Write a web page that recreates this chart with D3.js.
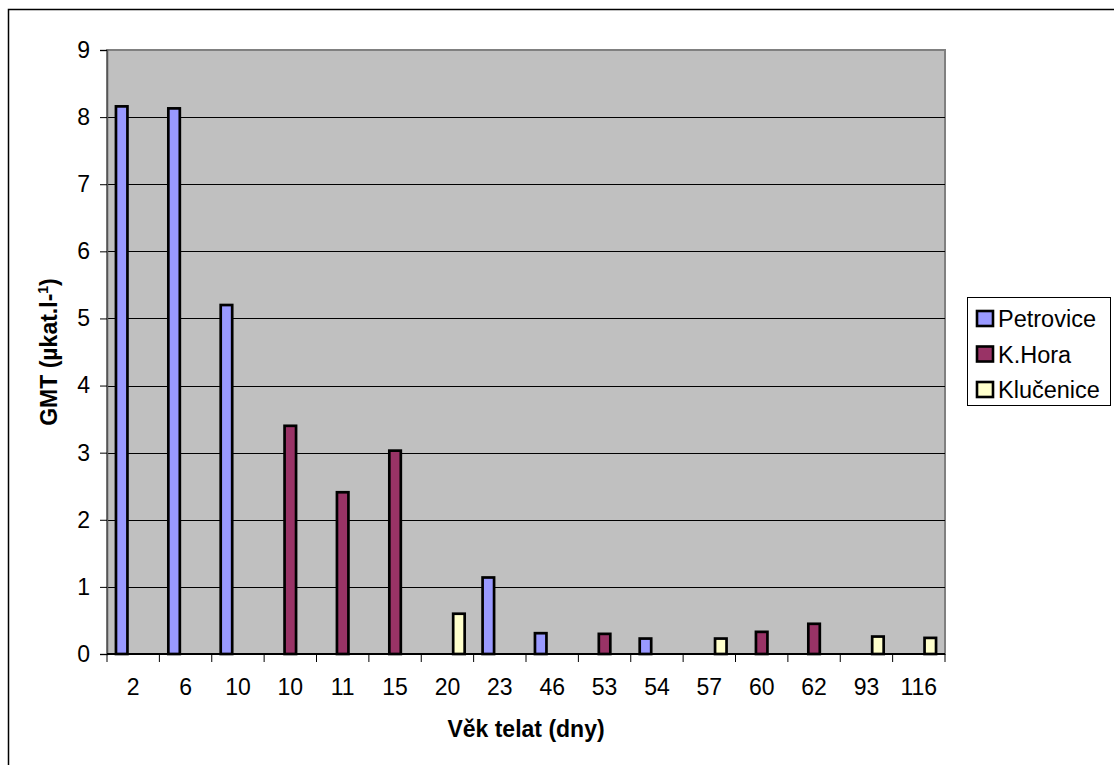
<!DOCTYPE html>
<html lang="cs">
<head>
<meta charset="utf-8">
<script src="https://d3js.org/d3.v7.min.js"></script>
<style>
  body { margin: 0; background: #fff; }
  #chart text { font-family: "Liberation Sans", Arial, sans-serif; fill: #000; }
</style>
</head>
<body>
<div id="chart"></div>
<script>
"use strict"
// vek telat (dny) - kategorie na ose x (10 je tam dvakrat)
var kategorie = ["2", "6", "10", "10", "11", "15", "20", "23", "46", "53", "54", "57", "60", "62", "93", "116"];
var serie = ["Petrovice", "K.Hora", "Klučenice"];
var petrovice = [8.16, 8.13, 5.2, null, null, null, null, 1.14, 0.31, null, 0.23, null, null, null, null, null];
var kHora = [null, null, null, 3.4, 2.41, 3.03, null, null, null, 0.3, null, null, 0.33, 0.45, null, null];
var klucenice = [null, null, null, null, null, null, 0.6, null, null, null, null, 0.23, null, null, 0.26, 0.24];
var yTicks = [0, 1, 2, 3, 4, 5, 6, 7, 8, 9];
var barvy = ["#9999FF", "#993366", "#FFFFCC"];

function kresli() {
  var sirka = 1114, vyska = 765;
  var margin = {top: 50, right: 169, bottom: 111, left: 107};
  var sirkaVis = sirka - margin.left - margin.right,
      vyskaVis = vyska - margin.top - margin.bottom;

  var svg = d3.select('#chart').append('svg')
      .attr('width', sirka)
      .attr('height', vyska);

  // ramecek celeho grafu (presahuje obrazek vpravo a dole)
  svg.append('rect')
      .attr('x', 8.5).attr('y', 9.5)
      .attr('width', 1300).attr('height', 900)
      .attr('fill', 'none').attr('stroke', '#000').attr('stroke-width', 1.5);

  var g = svg.append('g')
      .attr('transform', 'translate(' + margin.left + ',' + margin.top + ')');

  /*
   * Skaly
   */
  var x0 = d3.scaleBand()
      .domain(d3.range(kategorie.length))
      .range([0, sirkaVis])
      .padding(0);
  var x1 = d3.scaleBand()
      .domain(serie)
      .range([0, x0.bandwidth()])
      .paddingInner(0)
      .paddingOuter(0.78);
  var y = d3.scaleLinear()
      .domain([0, 9])
      .range([vyskaVis, 0]);

  // sede pozadi
  g.append('rect')
      .attr('width', sirkaVis).attr('height', vyskaVis)
      .attr('fill', '#C0C0C0')
      .attr('stroke', '#808080').attr('stroke-width', 2);

  // mrizka
  g.selectAll('.grid')
      .data(yTicks.filter(function (t) { return t > 0 && t < 9; }))
      .enter().append('line')
      .attr('x1', 0).attr('x2', sirkaVis)
      .attr('y1', function (d) { return Math.round(y(d)) + 0.5; })
      .attr('y2', function (d) { return Math.round(y(d)) + 0.5; })
      .attr('stroke', '#000').attr('stroke-width', 1);

  /*
   * Sloupce
   */
  var hodnoty = [petrovice, kHora, klucenice];
  var data = [];
  kategorie.forEach(function (k, i) {
    serie.forEach(function (s, j) {
      if (hodnoty[j][i] != null) data.push({i: i, s: s, j: j, v: hodnoty[j][i]});
    });
  });

  g.selectAll('.bar')
      .data(data)
      .enter().append('rect')
      .attr('x', function (d) { return x0(d.i) + x1(d.s); })
      .attr('y', function (d) { return y(d.v); })
      .attr('width', x1.bandwidth())
      .attr('height', function (d) { return y(0) - y(d.v); })
      .attr('fill', function (d) { return barvy[d.j]; })
      .attr('stroke', '#000').attr('stroke-width', 2.7);

  /*
   * Osy
   */
  var osaY = g.append('g')
      .call(d3.axisLeft(y).tickValues(yTicks).tickSize(7).tickPadding(10).tickFormat(d3.format('d')));
  osaY.select('.domain').attr('stroke', '#555').attr('stroke-width', 1.5);
  osaY.selectAll('.tick line').attr('stroke', '#000');
  osaY.selectAll('text').style('font-size', '23px');

  var hranice = d3.range(kategorie.length + 1);
  var osaX = g.append('g').attr('transform', 'translate(0,' + vyskaVis + ')');
  osaX.append('line')
      .attr('x1', 0).attr('x2', sirkaVis)
      .attr('stroke', '#000').attr('stroke-width', 2);
  osaX.selectAll('.tik')
      .data(hranice)
      .enter().append('line')
      .attr('x1', function (d) { return d * x0.step(); })
      .attr('x2', function (d) { return d * x0.step(); })
      .attr('y1', 0).attr('y2', 8)
      .attr('stroke', '#000').attr('stroke-width', 1);
  osaX.selectAll('.popis')
      .data(kategorie)
      .enter().append('text')
      .attr('x', function (d, i) { return x0(i) + x0.bandwidth() / 2; })
      .attr('y', 41)
      .attr('text-anchor', 'middle')
      .style('font-size', '23px')
      .text(function (d) { return d; });

  // titulky os
  svg.append('text')
      .attr('x', margin.left + sirkaVis / 2)
      .attr('y', 737)
      .attr('text-anchor', 'middle')
      .style('font-size', '23px').style('font-weight', 'bold')
      .text('Věk telat (dny)');

  var ty = svg.append('text')
      .attr('transform', 'translate(57,352) rotate(-90)')
      .attr('text-anchor', 'middle')
      .style('font-size', '23px').style('font-weight', 'bold');
  ty.append('tspan').text('GMT (µkat.l-');
  ty.append('tspan').attr('dy', -9).style('font-size', '14px').text('1');
  ty.append('tspan').attr('dy', 9).text(')');

  /*
   * Legenda
   */
  var leg = svg.append('g');
  leg.append('rect')
      .attr('x', 967.5).attr('y', 297.5)
      .attr('width', 143).attr('height', 108)
      .attr('fill', '#fff').attr('stroke', '#000').attr('stroke-width', 1);
  var polozky = leg.selectAll('.pol')
      .data(serie)
      .enter().append('g')
      .attr('transform', function (d, i) { return 'translate(977,' + (318 + i * 35.5) + ')'; });
  polozky.append('rect')
      .attr('x', 0).attr('y', -7)
      .attr('width', 16).attr('height', 15)
      .attr('fill', function (d, i) { return barvy[i]; })
      .attr('stroke', '#000').attr('stroke-width', 2.6);
  polozky.append('text')
      .attr('x', 21).attr('y', 9)
      .style('font-size', '23.5px')
      .text(function (d) { return d; });
}

kresli();
</script>
</body>
</html>
